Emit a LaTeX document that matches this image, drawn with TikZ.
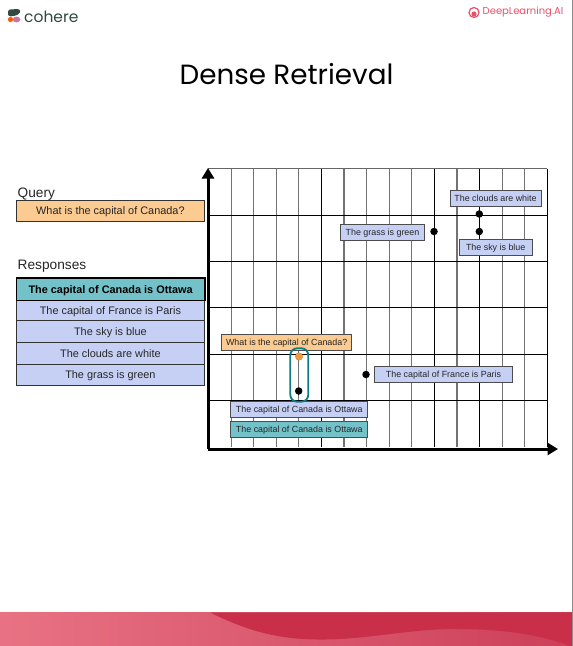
\documentclass[tikz,border=0pt]{standalone}
\usepackage{fontspec}
\setmainfont{Liberation Sans}
\newfontfamily\popfont{Poppins}
\usetikzlibrary{arrows.meta}
\definecolor{cBlue}{HTML}{C6D0F5}
\definecolor{cTeal}{HTML}{74C2C9}
\definecolor{cOrange}{HTML}{FBCB91}
\definecolor{cRing}{HTML}{0F7C84}
\definecolor{cDot}{HTML}{F09A3E}
\definecolor{cRed}{HTML}{C92F48}
\definecolor{cPink}{HTML}{E87283}
\definecolor{cPinkEnd}{HTML}{CC3F58}
\definecolor{cLogo}{HTML}{2F4A43}
\definecolor{cDL}{HTML}{E8506A}
\tikzset{
  x=1pt,y=-1pt,
  rowbox/.style={draw=black!80,line width=0.8pt,minimum width=188pt,anchor=north west,inner sep=0pt,text height=7.8pt,text depth=0pt,font=\fontsize{10.9}{12}\selectfont,text=black!85},
  tag/.style={draw=black!70,line width=0.8pt,inner sep=0pt,minimum height=16pt,text height=6.4pt,text depth=0pt,font=\fontsize{8.9}{10}\selectfont,text=black!85},
  pt/.style={circle,fill=black,inner sep=0pt,minimum size=7.5pt},
  gridA/.style={black!55,line width=1.1pt},
  gridB/.style={black,line width=0.9pt},
  axis/.style={line width=3pt,-{Triangle[length=10.5pt,width=12pt]}},
  heading/.style={anchor=west,inner sep=0pt,font=\fontsize{13.7}{15}\selectfont,text=black!85}
}
\begin{document}
\begin{tikzpicture}
\useasboundingbox (0,0) rectangle (573,646);
% footer
\fill[left color=cPink,right color=cPinkEnd] (0,612.5) rectangle (573,646);
\fill[cRed] (210,612.5) .. controls (250,632) and (280,640) .. (325,639.5) .. controls (370,639) and (410,629) .. (455,629) .. controls (500,629) and (540,634) .. (573,647) -- (573,612.5) -- cycle;
\draw[black!45,line width=0.6pt] (572.6,0) -- (572.6,646);
% logos and title
\node[inner sep=0pt,font=\popfont\fontsize{27.8}{32}\selectfont,text=black] (title) at (286.5,74.5) {Dense Retrieval};
\node[anchor=west,inner sep=0pt,font=\popfont\fontsize{15.5}{18}\selectfont,text=cLogo] (cohere) at (24,16.5) {cohere};
\fill[cLogo,rounded corners=2.5pt] (8,9.5) -- (20,9) -- (20.5,13) -- (15,16) -- (8,16.5) -- cycle;
\fill[orange!70!red] (10.5,19.5) circle (2.6pt);
\fill[violet!40!pink] (16.5,19.5) ellipse (3.8pt and 2.9pt);
\node[anchor=east,inner sep=0pt,font=\popfont\fontsize{10}{12}\selectfont,text=cDL] (dl) at (563.5,12.5) {DeepLearning.AI};
\draw[cDL,line width=1.2pt] (474,12.5) circle (5pt);
\fill[cDL] (474,14) circle (2.6pt);
% grid
\foreach \x in {231.3,253.8,276.3,298.7,344,366.7,389.3,411.7,457,502.3,524.7}
  \draw[gridA] (\x,168.7) -- (\x,447);
\foreach \x in {321.3,434.3,479.3,547.3}
  \draw[gridB] (\x,168.7) -- (\x,447);
\draw[black!60,line width=1pt] (208,168.7) -- (547.3,168.7);
\foreach \y in {215,261,307.7,354,400.3}
  \draw[gridB] (208,\y) -- (547.3,\y);
\coordinate (origin) at (208,449);
\coordinate (xend) at (558,449);
\coordinate (yend) at (208,168);
\draw[axis] (origin) -- (xend);
\draw[axis] (origin) -- (yend);
% left panel
\node[heading] (qh) at (17.5,194) {Query};
\node[rowbox,fill=cOrange,minimum height=21.5pt] (q) at (16,199.5) {What is the capital of Canada?};
\node[heading] (rh) at (17.5,266) {Responses};
\node[rowbox,fill=cBlue,minimum height=21pt] (r2) at (16,300) {The capital of France is Paris};
\node[rowbox,fill=cBlue,minimum height=21.7pt] (r3) at (16,320.3) {The sky is blue};
\node[rowbox,fill=cBlue,minimum height=21.5pt] (r4) at (16,342) {The clouds are white};
\node[rowbox,fill=cBlue,minimum height=21.5pt] (r5) at (16,363.5) {The grass is green};
\node[rowbox,fill=cTeal,draw=black,line width=1.3pt,minimum width=188.5pt,minimum height=22.5pt,font=\bfseries\fontsize{10.9}{12}\selectfont,text=black] (r1) at (15.7,277.2) {The capital of Canada is Ottawa};
% plot
\node[pt,fill=cDot,draw=cDot!80!black,line width=0.3pt] (pq) at (299,356.5) {};
\node[pt] (p1) at (298.7,391) {};
\node[pt] (p2) at (366,374.5) {};
\node[pt] (p3) at (434,231.5) {};
\node[pt] (p4) at (479.3,214) {};
\node[pt] (p5) at (479.3,231.5) {};
\node[tag,fill=cOrange,minimum width=130pt] (tq) at (286.7,342.5) {What is the capital of Canada?};
\node[tag,fill=cBlue,minimum width=138pt] (t2) at (443.5,374.7) {The capital of France is Paris};
\node[tag,fill=cBlue,minimum width=137pt] (t1) at (299.3,409.2) {The capital of Canada is Ottawa};
\node[tag,fill=cTeal,minimum width=137pt] (t1b) at (299.3,429.2) {The capital of Canada is Ottawa};
\node[tag,fill=cBlue,minimum width=91pt] (t4) at (495.5,198.5) {The clouds are white};
\node[tag,fill=cBlue,minimum width=84pt] (t5) at (382.5,232) {The grass is green};
\node[tag,fill=cBlue,minimum width=72.5pt] (t3) at (495.7,247.5) {The sky is blue};
\node[draw=cRing,line width=1.8pt,rounded corners=7pt,minimum width=18pt,minimum height=53.5pt,inner sep=0pt] (ring) at (299.3,375) {};
\end{tikzpicture}
\end{document}
